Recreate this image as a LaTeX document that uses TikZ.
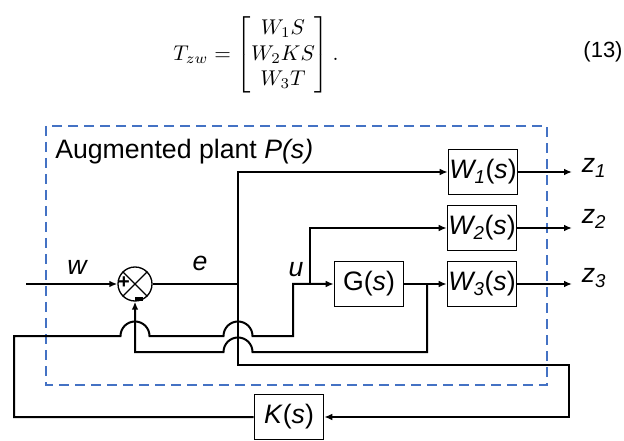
\documentclass[tikz,border=0pt]{standalone}
\usepackage{amsmath}
\usepackage[no-math]{fontspec}
\setmainfont{Liberation Sans}
\usetikzlibrary{arrows.meta,positioning}

\definecolor{plantblue}{RGB}{68,114,196}

\tikzset{
  sig/.style={line width=1.5pt},
  blk/.style={draw, line width=0.9pt, minimum width=52pt, minimum height=34pt, inner sep=0pt, font=\fontsize{20}{24}\selectfont},
  lbl/.style={font=\fontsize{20}{24}\selectfont\itshape, inner sep=0pt},
  plant/.style={draw=plantblue, line width=1.6pt, dash pattern=on 7.5pt off 4.5pt},
  >={Latex[length=6pt,width=5pt]}
}

\begin{document}
\begin{tikzpicture}[x=0.75pt, y=-0.75pt]
    \useasboundingbox (0,0) rectangle (624,441);

    % Equation (13)
    \node[scale=1.6, inner sep=0pt] (eq) at (256,55) {$T_{zw} = \begin{bmatrix} W_1S\\ W_2KS\\ W_3T \end{bmatrix}.$};
    \node (eqnum) at (603,52) {\fontsize{16.5}{20}\selectfont (13)};

    % Augmented plant
    \draw[plant] (46,126) rectangle (547,385);
    \node[anchor=base west, inner sep=0pt, font=\fontsize{20}{24}\selectfont] (title) at (55,159) {Augmented plant \textit{P(s)}};

    % Summing junction
    \node[draw, circle, line width=1pt, minimum size=25.5pt, inner sep=0pt] (sum) at (135,284) {};
    \draw[line width=1pt] (sum.north west) -- (sum.south east) (sum.north east) -- (sum.south west);
    \node[inner sep=0pt, font=\bfseries\fontsize{15}{15}\selectfont] (plus) at (124,283) {+};
    \node[inner sep=0pt] (minus) at (139,299) {\rule{5.5pt}{2.4pt}};

    % Blocks
    \node[blk] (W1) at (483,172) {\textit{W\textsubscript{1}}(\textit{s})};
    \node[blk] (W2) at (482,228) {\textit{W\textsubscript{2}}(\textit{s})};
    \node[blk] (W3) at (482,284) {\textit{W\textsubscript{3}}(\textit{s})};
    \node[blk] (G) at (369,284) {G(\textit{s})};
    \node[blk] (K) at (289,417) {\textit{K}(\textit{s})};

    % Signal labels
    \node[lbl] (wl) at (77,267) {w};
    \node[lbl] (el) at (200,263) {e};
    \node[lbl] (ul) at (296,270) {u};
    \node[lbl] (z1) at (594,168) {z\textsubscript{1}};
    \node[lbl] (z2) at (594,219) {z\textsubscript{2}};
    \node[lbl] (z3) at (594,278) {z\textsubscript{3}};

    % Branch points
    \coordinate (win) at (26,284);
    \coordinate (ej) at (238,284);
    \coordinate (kr) at (569,365);
    \coordinate (kl) at (14,336);
    \coordinate (uj) at (293,284);
    \coordinate (ub) at (310,284);
    \coordinate (yb) at (427,284);
    \coordinate (o1) at (572,172);
    \coordinate (o2) at (572,228);
    \coordinate (o3) at (572,284);

    % Error path
    \draw[sig,->] (win) -- (sum.west);
    \draw[sig] (sum.east) -- (ej);
    \draw[sig,->] (ej) |- (W1.west);
    \draw[sig,->] (ej) |- (kr) |- (K.east);

    % Control input u, hopping over two lines
    \draw[sig,->] (K.west) -| (kl) -- (120.5,336) arc[start angle=180, end angle=360, radius=14.5]
        -- (223.5,336) arc[start angle=180, end angle=360, radius=14.5] -- (293,336) -- (uj) -- (G.west);
    \draw[sig,->] (ub) |- (W2.west);

    % Output y fed back
    \draw[sig,->] (G.east) -- (W3.west);
    \draw[sig,->] (yb) -- (427,352) -- (252.5,352) arc[start angle=360, end angle=180, radius=14.5]
        -- (135,352) -- (sum.south);

    % Weighted outputs
    \draw[sig,->] (W1.east) -- (o1);
    \draw[sig,->] (W2.east) -- (o2);
    \draw[sig,->] (W3.east) -- (o3);
\end{tikzpicture}
\end{document}
